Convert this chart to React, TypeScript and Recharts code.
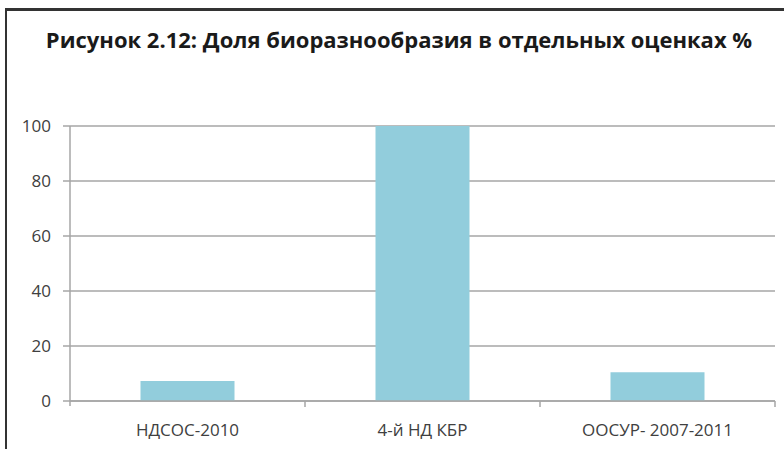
import React from "react";
import { BarChart, Bar, XAxis, YAxis, CartesianGrid } from "recharts";

const categories = ["НДСОС-2010", "4-й НД КБР", "ООСУР- 2007-2011"];
const values = [7.3, 100, 10.5];
const yTicks = [0, 20, 40, 60, 80, 100];
const title = "Рисунок 2.12: Доля биоразнообразия в отдельных оценках %";

const data = categories.map((c, i) => ({ name: c, value: values[i] }));

const FONT = "'Open Sans', sans-serif";
const TEXT = "#404040";
const LINE = "#a6a6a6";

const XTick = (props: any) => {
  const { x, y, payload, index, width, visibleTicksCount } = props;
  const band = width / visibleTicksCount;
  const axisY = y - 8;
  return (
    <g>
      {index === 0 && (
        <line x1={x - band / 2} x2={x - band / 2} y1={axisY} y2={axisY + 5} stroke={LINE} strokeWidth={1.5} />
      )}
      <line x1={x + band / 2} x2={x + band / 2} y1={axisY} y2={axisY + 6} stroke={LINE} strokeWidth={1.5} />
      <text x={x} y={axisY + 35} textAnchor="middle" fill={TEXT} fontFamily={FONT} fontSize={17}>
        {payload.value}
      </text>
    </g>
  );
};

export default function App() {
  return (
    <div style={{ position: "absolute", left: 0, top: 0, width: 784, height: 449, background: "#fff", overflow: "hidden" }}>
      <div style={{ position: "absolute", left: 5, top: 8, right: -10, bottom: -10, borderLeft: "2px solid #333", borderTop: "3px solid #333" }} />
      <svg width={784} height={80} style={{ position: "absolute", left: 0, top: 0 }}>
        <text x={399} y={48} textAnchor="middle" fontFamily={FONT} fontWeight={700} fontSize={22} fill="#1a1a1a">
          {title}
        </text>
      </svg>
      <div style={{ position: "absolute", left: 0, top: 0 }}>
        <BarChart width={784} height={449} data={data} margin={{ top: 126, right: 9, left: 10, bottom: 18 }} barCategoryGap="30%">
          <CartesianGrid vertical={false} stroke={LINE} strokeWidth={1.5} />
          <XAxis
            dataKey="name"
            height={30}
            axisLine={{ stroke: LINE, strokeWidth: 1.5 }}
            tickLine={false}
            tick={<XTick />}
            interval={0}
            tickSize={8}
            tickMargin={0}
          />
          <YAxis
            width={60}
            domain={[0, 100]}
            ticks={yTicks}
            axisLine={{ stroke: LINE, strokeWidth: 1.5 }}
            tickLine={{ stroke: LINE, strokeWidth: 1.5 }}
            tickSize={7}
            tickMargin={12}
            tick={{ fill: TEXT, fontFamily: FONT, fontSize: 17 }}
          />
          <Bar dataKey="value" fill="#92cddc" isAnimationActive={false} />
        </BarChart>
      </div>
    </div>
  );
}
